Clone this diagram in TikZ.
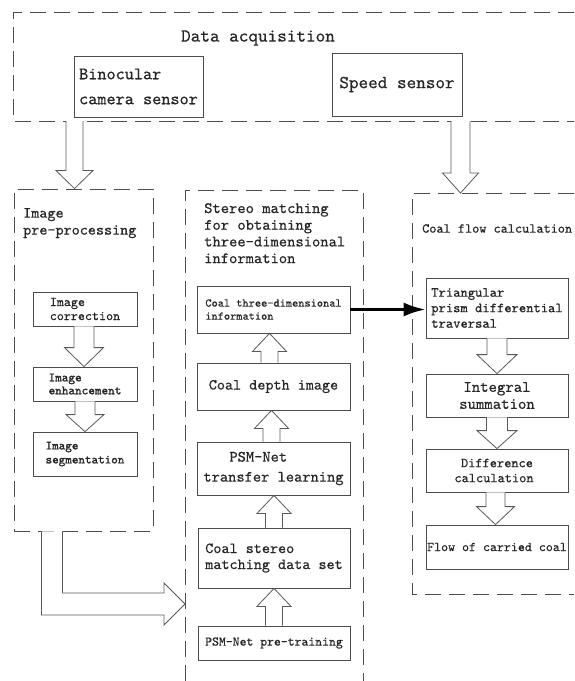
\documentclass[tikz,border=0pt]{standalone}
\usepackage{fontspec}
\newfontfamily\mono{lmmono10-regular}[Extension=.otf, FakeBold=0.5]
\newfontfamily\monob{lmmono10-regular}[Extension=.otf, FakeBold=1.5]
\usetikzlibrary{calc,arrows.meta}
\newcommand\fsz[2]{\mono\fontsize{#1}{#2}\selectfont}
\newcommand\fszb[2]{\monob\fontsize{#1}{#2}\selectfont}
\tikzset{
  box/.style={draw=black!70, line width=0.8pt, rectangle, inner sep=0pt, text=black!85, align=left},
  boxc/.style={box, align=center},
  frame/.style={draw=black!70, line width=0.9pt, dash pattern=on 16pt off 8pt},
  harrow/.style={draw=black!65, line width=0.8pt, fill=white},
  ttl/.style={inner sep=0pt, text=black!85, align=left},
}
\newcommand\hdown[5]{%
  \coordinate (hs) at (#1);
  \coordinate (ht) at (hs |- #2);
  \draw[harrow] ($(hs)+(-#3,0)$) -- ($(ht)+(-#3,-#5)$) -- ($(ht)+(-#4,-#5)$) -- (ht)
     -- ($(ht)+(#4,-#5)$) -- ($(ht)+(#3,-#5)$) -- ($(hs)+(#3,0)$);}
\newcommand\hup[5]{%
  \coordinate (hs) at (#1);
  \coordinate (ht) at (hs |- #2);
  \draw[harrow] ($(hs)+(-#3,0)$) -- ($(ht)+(-#3,#5)$) -- ($(ht)+(-#4,#5)$) -- (ht)
     -- ($(ht)+(#4,#5)$) -- ($(ht)+(#3,#5)$) -- ($(hs)+(#3,0)$);}
\begin{document}
\begin{tikzpicture}[x=1pt,y=-1pt]
\fill[white] (0,0) rectangle (574,681);
\useasboundingbox (0,0) rectangle (574,681);

% frames
\draw[frame] (574,12) -- (13,12) -- (13,121) -- (574,121);
\node[ttl, font=\fsz{18.3}{21}] (acqT) at (258,38) {Data acquisition};
\node[frame, minimum width=139pt, minimum height=342pt, inner sep=0pt] (pp) at (83.5,360) {};
\node[ttl, anchor=north west, font=\fsz{15.4}{17}] (ppT) at (23,208) {Image\\pre-processing};
\draw[frame] (185,681) -- (185,190) -- (363,190) -- (363,681);
\node[ttl, anchor=north west, font=\fsz{15.8}{16.7}] (stT) at (204,203) {Stereo matching\\for obtaining\\three-dimensional\\information};
\draw[frame] (574,193) -- (412,193) -- (412,594) -- (574,594);
\node[ttl, anchor=north west, font=\fsz{13.6}{15}] (flT) at (422,224) {Coal flow calculation};

% data acquisition boxes
\node[box, minimum width=129pt, minimum height=61pt, font=\fsz{17.4}{25}] (bino) at (138.5,86.5) {Binocular\\camera sensor};
\node[boxc, minimum width=130pt, minimum height=63pt, font=\fsz{18.3}{21}] (speed) at (397,84.5) {Speed sensor};

% pre-processing
\node[box, minimum width=104pt, minimum height=34pt, font=\fsz{13.4}{14}] (corr) at (85,309) {Image\\correction};
\node[box, minimum width=104pt, minimum height=34pt, font=\fszb{12.6}{13}] (enh) at (85,384) {Image\\enhancement};
\node[box, minimum width=104pt, minimum height=44pt, font=\fszb{12.5}{14}] (seg) at (85,454) {Image\\segmentation};

% stereo matching
\node[box, minimum width=153pt, minimum height=47pt, font=\fsz{11.8}{13}] (info3d) at (273.5,309.5) {Coal three-dimensional\\information};
\node[boxc, minimum width=153pt, minimum height=47pt, font=\fsz{15.4}{16}] (depth) at (273.5,386.5) {Coal depth image};
\node[box, minimum width=153pt, minimum height=53pt, font=\fsz{15.7}{20}] (psmtl) at (273.5,468.5) {\hspace*{26pt}PSM-Net\\transfer learning};
\node[box, minimum width=152pt, minimum height=60pt, font=\fsz{15.4}{16}] (dataset) at (274,558) {Coal stereo\\matching data set};
\node[box, minimum width=152pt, minimum height=34pt, font=\fsz{13.1}{14}] (pretrain) at (274,643) {PSM-Net pre-training};

% coal flow
\node[box, minimum width=142pt, minimum height=60pt, font=\fsz{13.9}{15.5}] (tri) at (497,308) {Triangular\\prism differential\\traversal};
\node[boxc, minimum width=142pt, minimum height=43pt, font=\fsz{16}{17}] (integ) at (497,395.5) {Integral\\summation};
\node[boxc, minimum width=142pt, minimum height=43pt, font=\fsz{13.7}{15}] (diff) at (497,470.5) {Difference\\calculation\hspace*{6pt}};
\node[box, minimum width=142pt, minimum height=44pt, font=\fsz{13.3}{14}] (flowcoal) at (497,547) {Flow of carried coal};

% hollow arrows
\coordinate (acqA) at (74.5,121);
\coordinate (acqB) at (460.5,121);
\coordinate (flowTop) at (460.5,193);
\hdown{acqA}{pp.north}{8.5}{18.5}{18}
\hdown{acqB}{flowTop}{9.5}{18}{20}
\hdown{$(corr.south)+(-1,0)$}{enh.north}{10}{19.5}{19}
\hdown{enh.south}{seg.north}{10}{19}{17}
\hup{$(depth.north)+(-4,0)$}{info3d.south}{8.5}{17}{18}
\hup{$(psmtl.north)+(-2,0)$}{depth.south}{8.5}{17}{18}
\hup{dataset.north}{psmtl.south}{8.5}{17}{18}
\hup{pretrain.north}{dataset.south}{8.5}{17}{18}
\hdown{tri.south}{integ.north}{10}{20}{19}
\hdown{integ.south}{diff.north}{10.5}{20}{18}
\hdown{$(diff.south)+(-1.5,0)$}{flowcoal.north}{9.5}{19}{18}

% bent arrow
\coordinate (bs) at ($(pp.south west)+(38.5,0)$);
\coordinate (bt) at (185,604);
\draw[harrow] ($(bs)+(-10.5,0)$) |- ($(bt)+(-21,11)$) -- ($(bt)+(-21,21)$) -- (bt)
   -- ($(bt)+(-21,-21)$) -- ($(bt)+(-21,-11)$) -| ($(bs)+(10.5,0)$);

% black arrow
\draw[line width=3pt, -{Latex[length=22pt,width=14pt]}] (info3d.east) -- (info3d.east -| tri.west);
\end{tikzpicture}
\end{document}
